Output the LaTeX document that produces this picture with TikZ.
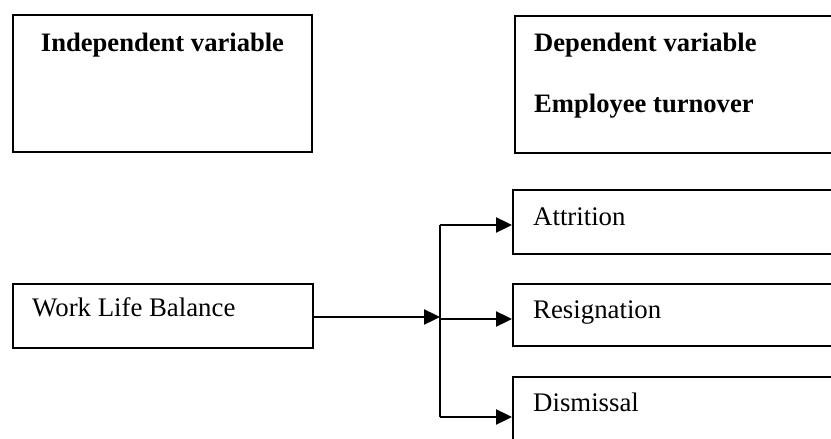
\documentclass[tikz,border=0pt]{standalone}
\usepackage{fontspec}
\setmainfont{Liberation Serif}
\usetikzlibrary{arrows.meta}
\begin{document}
\begin{tikzpicture}[x=1pt,y=-1pt,
  box/.style={draw, line width=2pt, rectangle, inner sep=0pt},
  lbl/.style={anchor=base west, inner sep=0pt, font=\fontsize{26.8}{32}\selectfont},
  blbl/.style={lbl, font=\fontsize{26.6}{32}\selectfont\bfseries},
  arr/.style={line width=2.4pt, -{Triangle[length=16pt,width=15pt]}},
  ln/.style={line width=2.4pt}]
\useasboundingbox (0,0) rectangle (831,439);
\clip (0,0) rectangle (831,439);
\node[box, minimum width=299pt, minimum height=137pt] (iv) at (162.5,83.5) {};
\node[box, minimum width=340pt, minimum height=137pt, anchor=north west] (dv) at (514,15) {};
\node[box, minimum width=300pt, minimum height=64pt] (wlb) at (163,316) {};
\node[box, minimum width=340pt, minimum height=64pt, anchor=north west] (att) at (512,189) {};
\node[box, minimum width=340pt, minimum height=62pt, anchor=north west] (res) at (512,283) {};
\node[box, minimum width=340pt, minimum height=90pt, anchor=north west] (dis) at (512,376) {};
\node[blbl, anchor=base] (tiv) at (162.5,52) {Independent variable};
\node[blbl] (tdv) at (534,52) {Dependent variable};
\node[blbl] (tet) at (534,112) {Employee turnover};
\node[lbl] (twlb) at (32,316) {Work Life Balance};
\node[lbl] (tatt) at (533,225) {Attrition};
\node[lbl] (tres) at (533,318) {Resignation};
\node[lbl] (tdis) at (533,411) {Dismissal};
\coordinate (j) at (440,317);
\coordinate (ta) at (att.west |- 0,225);
\coordinate (tr) at (res.west |- 0,319);
\coordinate (td) at (dis.west |- 0,417);
\draw[arr] (wlb.east |- j) -- (j);
\draw[ln] (j |- ta) -- (j |- td);
\draw[arr] (j |- ta) -- (ta);
\draw[arr] (j |- tr) -- (tr);
\draw[arr] (j |- td) -- (td);
\end{tikzpicture}
\end{document}
